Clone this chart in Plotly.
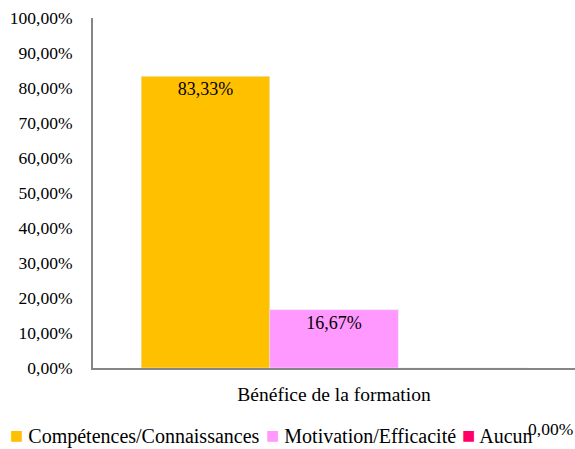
import plotly.graph_objects as go

## Data
category = ["Bénéfice de la formation"]
series = ["Compétences/Connaissances", "Motivation/Efficacité", "Aucun"]
values = [0.8333, 0.1667, 0.0]
colors = ["#FFC000", "#FF99FF", "#FF0066"]

font_name = "Liberation Serif"

fig = go.Figure()
for name, v, c in zip(series, values, colors):
    fig.add_trace(go.Bar(
        x=category, y=[v], name=name, marker_color=c,
        text=[v] if v > 0 else None, texttemplate="%{y:.2%}",
        textposition="inside", insidetextanchor="end",
        textfont=dict(color="black", size=18, family=font_name),
    ))

# legend drawn as text so the spacing matches the original (square close to label)
leg_x = [-0.176, 0.355, 0.761]
for name, c, lx in zip(series, colors, leg_x):
    fig.add_annotation(text=f"<span style='color:{c};font-size:22px'>■</span> {name}",
                       xref="paper", yref="paper", x=lx, y=-0.192,
                       xanchor="left", yanchor="middle", showarrow=False,
                       font=dict(size=20, color="black", family=font_name))

# label for the zero bar ends up down by the legend in the original
fig.add_annotation(text=f"{values[2]:.2%}".replace(".", ","), xref="paper", yref="paper",
                   x=1.0, y=-0.174, xanchor="right", yanchor="middle", showarrow=False,
                   font=dict(size=17.5, color="black", family=font_name))

fig.update_layout(
    width=575, height=449,
    margin=dict(l=93, r=0, t=18, b=81),
    plot_bgcolor="white", paper_bgcolor="white",
    barmode="group", bargap=0.2, bargroupgap=0,
    separators=",.",
    font=dict(family=font_name, size=17, color="black"),
    showlegend=False,
)
fig.update_xaxes(showline=True, linecolor="#868686", linewidth=2, ticks="",
                 tickfont=dict(size=19.5, family=font_name), ticklabelstandoff=8,
                 automargin=False)
fig.update_yaxes(range=[0, 1], dtick=0.1, tickformat=".2%", showgrid=False,
                 showline=True, linecolor="#868686", linewidth=2, ticks="",
                 zeroline=False, tickfont=dict(size=17.5, family=font_name),
                 ticklabelstandoff=15, automargin=False)

# page body has a default 8px margin, drop it so the chart fills the window
fig.write_html("out.html", config={"displayModeBar": False},
               post_script="document.body.style.margin='0';")
